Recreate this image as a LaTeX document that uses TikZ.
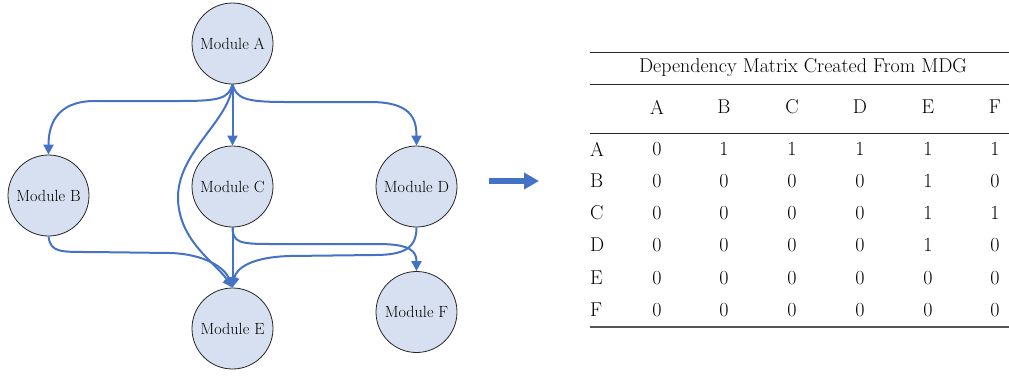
\documentclass[tikz,border=0pt]{standalone}
\usetikzlibrary{arrows.meta}
\definecolor{edgeblue}{RGB}{68,114,196}
\definecolor{nodefill}{RGB}{214,224,240}
\definecolor{rulegray}{RGB}{85,85,85}
\begin{document}
\begin{tikzpicture}[x=1pt,y=-1pt,
  module/.style={circle,draw=black!85,line width=0.8pt,fill=nodefill,
    minimum size=81pt,inner sep=0pt,font=\fontsize{16.2}{18}\selectfont},
  dep/.style={draw=edgeblue,line width=2pt,
    -{Triangle[length=10pt,width=10pt]}},
  cell/.style={inner sep=0pt,font=\fontsize{20}{22}\selectfont},
  rowlabel/.style={cell,anchor=west},
  toprule/.style={draw=black!85,line width=1pt},
  botrule/.style={draw=rulegray,line width=2pt}]
\useasboundingbox (0,0) rectangle (1009,375);

% module dependency graph
\node[module] (A) at (232.5,43.5) {Module A};
\node[module] (B) at (48.5,195.5) {Module B};
\node[module] (C) at (232.5,186.5) {Module C};
\node[module] (D) at (416.5,186.5) {Module D};
\node[module] (E) at (232.5,328.5) {Module E};
\node[module] (F) at (416.5,312) {Module F};

\draw[dep] (A.south) .. controls +(-4,14) and +(40,0) .. (180,101)
  -- (95,101) .. controls +(-40,0) and +(0,-28) .. (B.north);
\draw[dep] (A.south) .. controls +(4,14) and +(-40,0) .. (285,102)
  -- (370,102) .. controls +(40,0) and +(0,-28) .. (D.north);
\draw[dep] (A.south) -- (C.north);
\draw[dep] (A.south) .. controls (230,120) and (180,150) .. (178,195)
  .. controls (177,240) and (215,262) .. (E.north);
\draw[dep] (B.south) .. controls +(2,16) and +(-30,0) .. (90,252)
  -- (170,253) .. controls (205,254) and (225,268) .. (E.north);
\draw[dep] (C.south) -- (E.north);
\draw[dep] (D.south) .. controls +(0,20) and +(30,0) .. (375,255)
  -- (290,256) .. controls (252,257) and (236,268) .. (E.north);
\draw[dep] (C.south) .. controls +(0,15) and +(-30,0) .. (270,244)
  -- (378,244) .. controls +(32,0) and +(0,-20) .. (F.north);

% transformation arrow
\coordinate (arrowstart) at (489,181);
\coordinate (arrowend) at (539,181);
\draw[draw=edgeblue,line width=6pt,
  -{Triangle[length=15pt,width=16pt]}] (arrowstart) -- (arrowend);

% dependency matrix
\coordinate (tl) at (590,52);
\coordinate (tr) at (1009,52);
\draw[toprule] (tl) -- (tr);
\node[cell] (title) at (803,68) {Dependency Matrix Created From MDG};
\coordinate (ml) at (590,84);
\coordinate (mr) at (1009,84);
\draw[toprule] (ml) -- (mr);
\coordinate (hl) at (590,133);
\coordinate (hr) at (1009,133);
\draw[toprule] (hl) -- (hr);
\coordinate (bl) at (590,327);
\coordinate (br) at (1009,327);
\draw[botrule] (bl) -- (br);

\foreach \c/\x in {A/657,B/724,C/792,D/860,E/928,F/995}
  \node[cell] (h\c) at (\x,107) {\c};

\foreach \r/\y/\vals in {A/149/{0,1,1,1,1,1},B/181/{0,0,0,0,1,0},
    C/213/{0,0,0,0,1,1},D/245/{0,0,0,0,1,0},E/278/{0,0,0,0,0,0},
    F/310/{0,0,0,0,0,0}}{
  \node[rowlabel] (r\r) at (590,\y) {\r};
  \foreach \v [count=\i] in \vals {
    \pgfmathsetmacro{\cx}{{657,724,792,860,928,995}[\i-1]}
    \node[cell] (v\r\i) at (\cx,\y) {\v};
  }
}
\end{tikzpicture}
\end{document}
